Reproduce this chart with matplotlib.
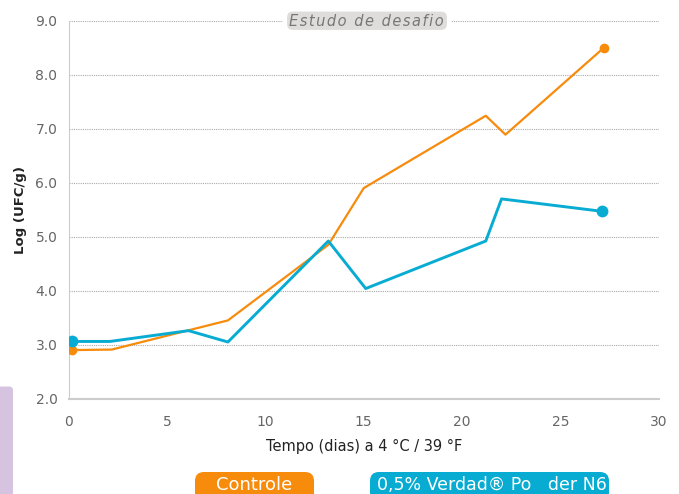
import matplotlib
matplotlib.use("Agg")
import matplotlib.pyplot as plt
from matplotlib.patches import FancyBboxPatch

# Daten
tage_controle = [0.2, 2.2, 8.1, 13.2, 15.0, 21.2, 22.2, 27.2]
log_controle = [2.90, 2.91, 3.45, 4.85, 5.90, 7.24, 6.89, 8.50]

tage_verdad = [0.2, 2.1, 6.1, 8.1, 13.2, 15.1, 21.2, 22.0, 27.1]
log_verdad = [3.06, 3.06, 3.26, 3.05, 4.92, 4.04, 4.92, 5.70, 5.47]

x_ticks = [0, 5, 10, 15, 20, 25, 30]
y_ticks = [2.0, 3.0, 4.0, 5.0, 6.0, 7.0, 8.0, 9.0]

titel = "Estudo de desafio"
legende = ["Controle", "0,5% Verdad\u00ae Po   der N6"]

ORANGE = "#F78B0C"
BLAU = "#08ACD3"

plt.rcParams["font.family"] = ["Liberation Sans Narrow", "DejaVu Sans"]

# Diagrammgröße
fig = plt.figure(figsize=(6.79, 4.94), dpi=100)
ax = fig.add_axes([68.5 / 679, 1 - 398.7 / 494, (659 - 68.5) / 679, (398.7 - 20.7) / 494])

# Daten plotten
ax.plot(tage_controle, log_controle, color=ORANGE, lw=1.6, zorder=3)
ax.plot(tage_controle[::len(tage_controle) - 1], log_controle[::len(log_controle) - 1],
        "o", color=ORANGE, ms=6, zorder=4)
ax.plot(tage_verdad, log_verdad, color=BLAU, lw=2.1, zorder=3)
ax.plot(tage_verdad[::len(tage_verdad) - 1], log_verdad[::len(log_verdad) - 1],
        "o", color=BLAU, ms=7.5, zorder=4)

# Achsen
ax.set_xlim(0, 30)
ax.set_ylim(2, 9)
ax.set_xticks(x_ticks)
ax.set_yticks(y_ticks)
ax.set_yticklabels([f"{v:.1f}" for v in y_ticks])
ax.tick_params(length=0, labelsize=10, colors="#666666", pad=8)
ax.tick_params(axis="x", pad=12)
ax.yaxis.grid(True, linestyle=(0, (1, 1)), color="#aaaaaa", lw=0.8)
for s in ["top", "right"]:
    ax.spines[s].set_visible(False)
ax.spines["left"].set_color("#cccccc")
ax.spines["bottom"].set_color("#cccccc")
ax.spines["bottom"].set_linewidth(1.5)

# Label & co.
ax.set_xlabel("Tempo (dias) a 4 \u00b0C / 39 \u00b0F", fontsize=10.5, color="#222222", labelpad=7,
              family=["DejaVu Sans"])
ax.set_ylabel("Log (UFC/g)", fontsize=9.5, color="#222222", fontweight="bold", labelpad=6,
              family=["DejaVu Sans"])

# Overlay in Pixelkoordinaten
ov = fig.add_axes([0, 0, 1, 1], zorder=5)
ov.set_xlim(0, 679)
ov.set_ylim(494, 0)
ov.axis("off")

ov.add_patch(FancyBboxPatch((285, 9.5), 164, 22.5, boxstyle="round,pad=0,rounding_size=8",
                            fc="#dedddb", ec="white", lw=3))
ov.text(366.5, 21, "\u200a".join(titel), ha="center", va="center", fontsize=10.5,
        style="italic", color="#777777", family=["DejaVu Sans"])

ov.add_patch(FancyBboxPatch((195, 472), 119, 30, boxstyle="round,pad=0,rounding_size=9",
                            fc=ORANGE, ec="none"))
ov.text(254.5, 485, legende[0], ha="center", va="center", fontsize=13, color="white",
        family=["DejaVu Sans"])
ov.add_patch(FancyBboxPatch((370, 472), 239, 30, boxstyle="round,pad=0,rounding_size=9",
                            fc=BLAU, ec="none"))
ov.text(492, 485, legende[1], ha="center", va="center", fontsize=12.5, color="white",
        family=["DejaVu Sans"])

ov.add_patch(FancyBboxPatch((-10, 386.5), 23, 120, boxstyle="round,pad=0,rounding_size=4",
                            fc="#d6c3df", ec="none"))

fig.savefig("out.png", dpi=100)
